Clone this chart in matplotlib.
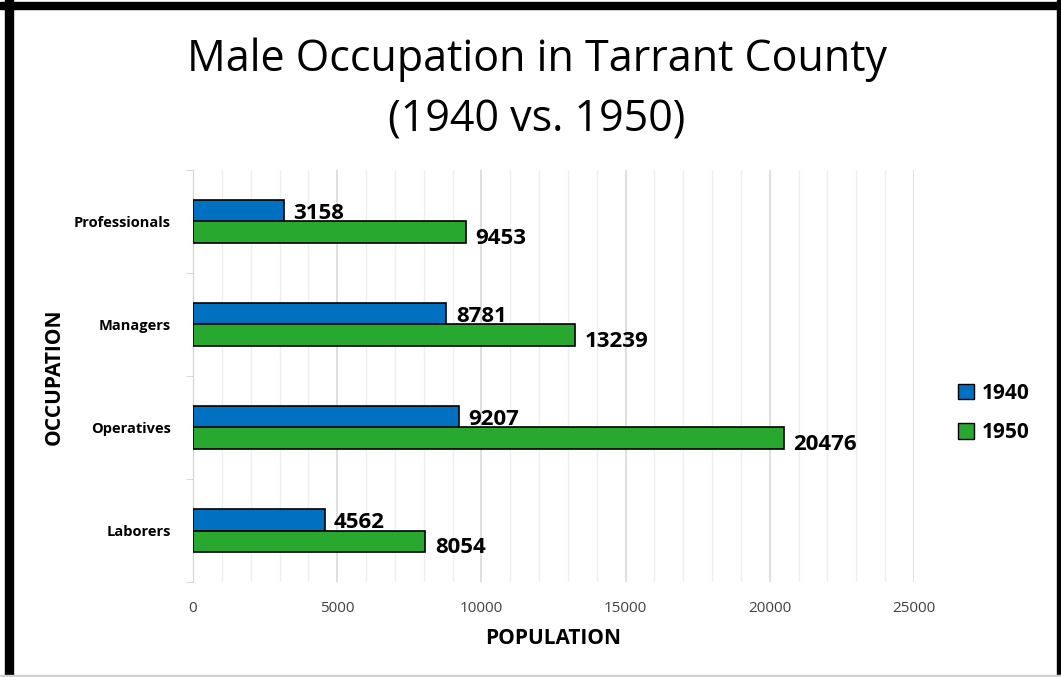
import matplotlib.pyplot as plt
from matplotlib.patches import Rectangle, Patch
from matplotlib.ticker import MultipleLocator

categories = ["Laborers", "Operatives", "Managers", "Professionals"]
vals_1940 = [4562, 9207, 8781, 3158]
vals_1950 = [8054, 20476, 13239, 9453]

BLUE = "#0070C0"
GREEN = "#28A82E"
W, H = 1061, 677

plt.rcParams["font.family"] = ["Open Sans", "DejaVu Sans"]

fig = plt.figure(figsize=(W / 100, H / 100), dpi=100)
ax = fig.add_axes([193 / W, 1 - 582 / H, (914 - 193) / W, (582 - 170) / H])

y = list(range(len(categories)))
h = 0.213
ax.barh([v + h / 2 for v in y], vals_1940, height=h, color=BLUE, edgecolor="black", linewidth=1.2, label="1940", zorder=3)
ax.barh([v - h / 2 for v in y], vals_1950, height=h, color=GREEN, edgecolor="black", linewidth=1.2, label="1950", zorder=3)

for yi, v in zip(y, vals_1940):
    ax.text(v + 330, yi + h / 2 - 0.03, str(v), va="center", ha="left", fontsize=16, fontweight="bold")
for yi, v in zip(y, vals_1950):
    ax.text(v + 330, yi - h / 2 - 0.06, str(v), va="center", ha="left", fontsize=16, fontweight="bold")

ax.set_xlim(0, 25000)
ax.set_ylim(-0.5, 3.5)
ax.xaxis.set_major_locator(MultipleLocator(5000))
ax.xaxis.set_minor_locator(MultipleLocator(1000))
ax.grid(axis="x", which="major", color="#D9D9D9", linewidth=1.2, zorder=0)
ax.grid(axis="x", which="minor", color="#EFEFEF", linewidth=1.0, zorder=0)
ax.tick_params(axis="x", which="both", length=0, labelsize=11, labelcolor="#404040", pad=14)

ax.set_yticks(y)
ax.set_yticklabels(categories, fontsize=10.5, fontweight="bold")
ax.set_yticks([-0.5, 0.5, 1.5, 2.5, 3.5], minor=True)
ax.tick_params(axis="y", which="major", length=0, pad=16)
ax.tick_params(axis="y", which="minor", length=5, color="#D0D0D0")

for s in ["top", "right", "bottom"]:
    ax.spines[s].set_visible(False)
ax.spines["left"].set_color("#D0D0D0")

ax.set_xlabel("POPULATION", fontsize=15, fontweight="bold", labelpad=8)
fig.text(54 / W, 1 - 377 / H, "OCCUPATION", rotation=90, ha="center", va="center", fontsize=15, fontweight="bold")

fig.text(537 / W, 1 - 60 / H, "Male Occupation in Tarrant County", ha="center", va="center", fontsize=31)
fig.text(537 / W, 1 - 120 / H, "(1940 vs. 1950)", ha="center", va="center", fontsize=31)

handles = [Patch(facecolor=BLUE, edgecolor="black"), Patch(facecolor=GREEN, edgecolor="black")]
fig.legend(handles, ["1940", "1950"], loc="center left", bbox_to_anchor=(958 / W, 1 - 413 / H),
           frameon=False, prop={"weight": "bold", "size": 15}, handlelength=0.75, handleheight=0.75,
           handletextpad=0.4, labelspacing=0.9, borderaxespad=0, borderpad=0)

# black frame around the chart, thin grey inner line
for x0, y0, w, hh in [(5, 0, 8, H), (0, H - 9, W, 7), (1057, 0, 4, H)]:
    fig.add_artist(Rectangle((x0 / W, y0 / H), w / W, hh / H, transform=fig.transFigure, color="black"))
fig.add_artist(Rectangle((0, 0), W, 2 / H, transform=fig.transFigure, color="#D0D0D0"))

fig.savefig("out.png", dpi=100)
